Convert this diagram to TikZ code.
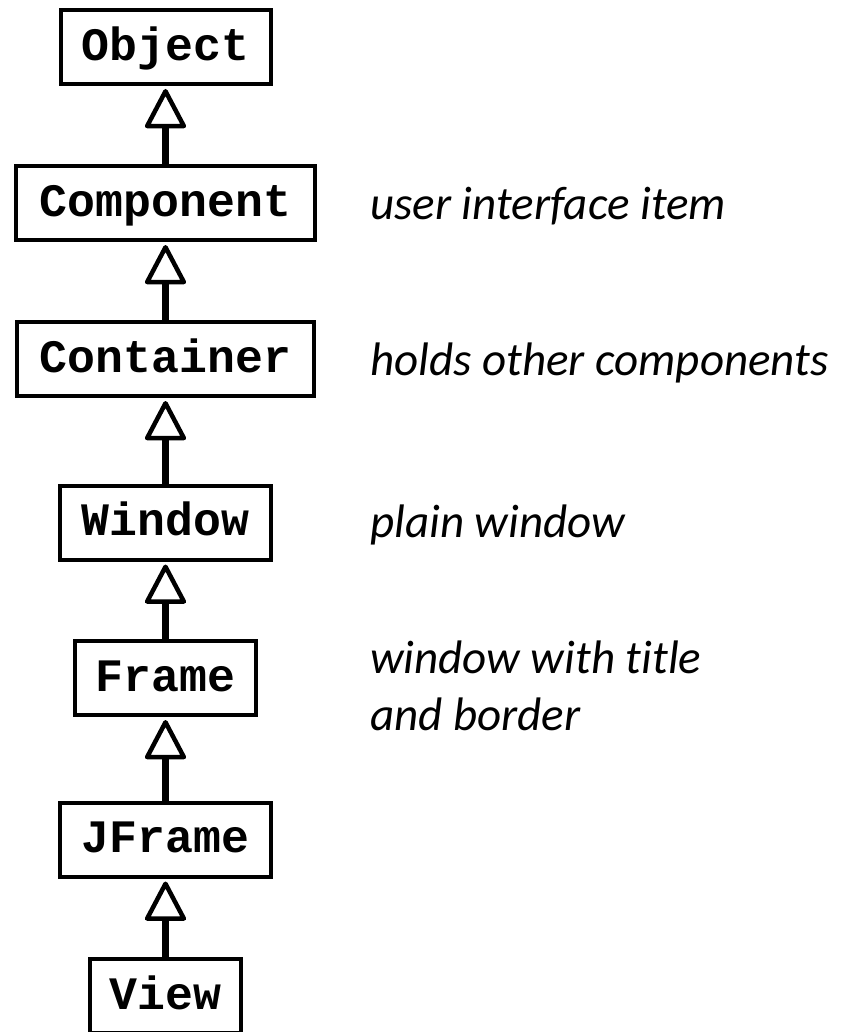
\documentclass[tikz,border=0pt]{standalone}
\usepackage{fontspec}
\newfontfamily\boxfont{Liberation Mono}
\newfontfamily\labfont{Carlito}[Ligatures={NoCommon}]
\usetikzlibrary{arrows.meta}
\begin{document}
\begin{tikzpicture}[x=1pt,y=1pt,
  cls/.style={draw, line width=4pt, rectangle, inner xsep=0pt, inner ysep=0pt,
    minimum height=74pt, text height=26.5pt, text depth=0pt,
    font=\boxfont\bfseries\fontsize{46.5}{50}\selectfont},
  inh/.style={line width=6.5pt, -{Triangle[open, length=42pt, width=43pt, line width=4.5pt 0, round]}, shorten >=3pt},
  lab/.style={anchor=base west, inner sep=0pt, align=left,
    font=\labfont\itshape\fontsize{47}{57}\selectfont}]
\useasboundingbox (0,0) rectangle (854,-1032);
\node[cls, minimum width=210pt] (object)    at (165.5,-47)   {Object};
\node[cls, minimum width=299pt] (component) at (165.5,-203)  {Component};
\node[cls, minimum width=297pt] (container) at (165.5,-359)  {Container};
\node[cls, minimum width=211pt] (window)    at (165.5,-522.5){Window};
\node[cls, minimum width=181pt] (frame)     at (165.5,-678)  {Frame};
\node[cls, minimum width=211pt] (jframe)    at (165.5,-839.5){JFrame};
\node[cls, minimum width=151pt] (view)      at (165.5,-996)  {View};
\draw[inh] (component) -- (object);
\draw[inh] (container) -- (component);
\draw[inh] (window) -- (container);
\draw[inh] (frame) -- (window);
\draw[inh] (jframe) -- (frame);
\draw[inh] (view) -- (jframe);
\node[lab] (t1) at (370,-220) {user interface item};
\node[lab] (t2) at (370,-375) {holds other components};
\node[lab] (t3) at (370,-537) {plain window};
\node[lab] (t4) at (370,-730) {window with title\\and border};
\end{tikzpicture}
\end{document}
